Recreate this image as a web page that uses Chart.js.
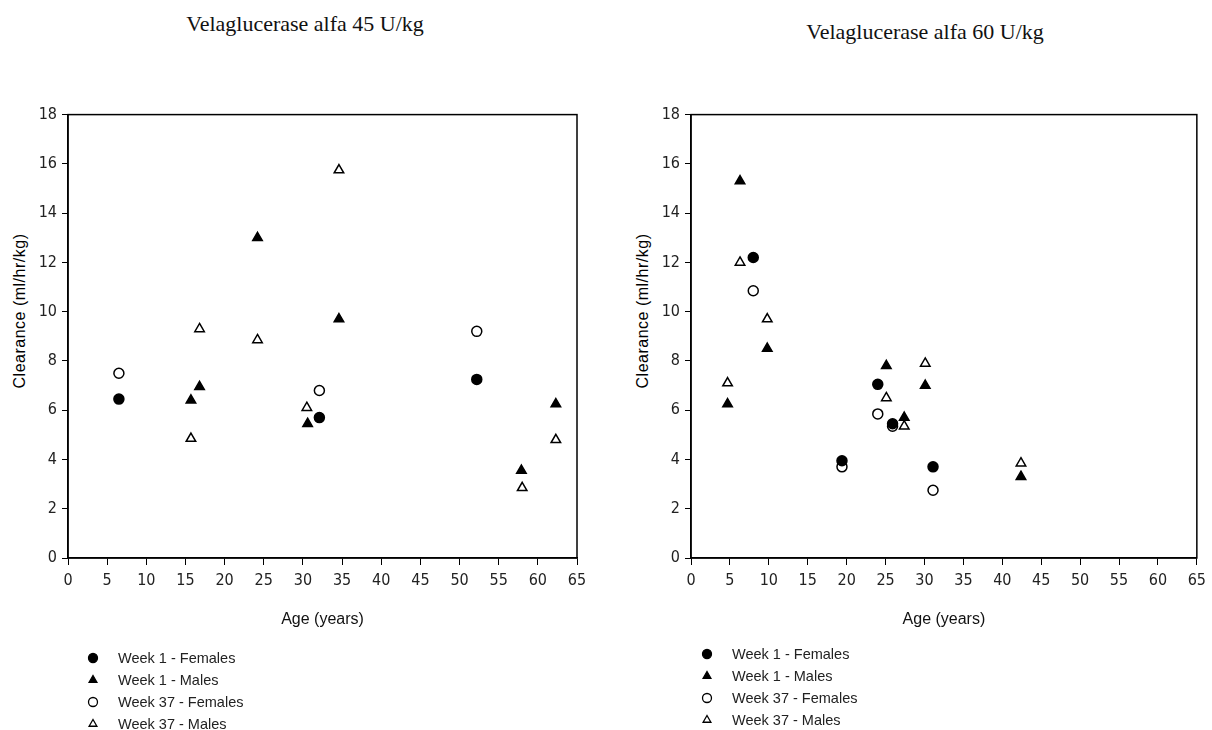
<!DOCTYPE html>
<html>
<head>
<meta charset="utf-8">
<script src="https://cdn.jsdelivr.net/npm/chart.js@4/dist/chart.umd.min.js"></script>
<style>
  body{margin:0;background:#fff;width:1212px;height:730px;overflow:hidden;position:relative;font-family:"Liberation Sans",Arial,sans-serif;}
  .title{position:absolute;font-family:"Liberation Serif","Times New Roman",serif;font-size:22px;line-height:1;color:#111;white-space:nowrap;transform:translateX(-50%);}
  .ytitle{position:absolute;font-size:16px;line-height:1;color:#000;white-space:nowrap;letter-spacing:0.5px;transform:translate(-50%,-50%) rotate(-90deg);}
  .box{position:absolute;}
  .legend{position:absolute;font-size:14.5px;color:#222;}
  .legend .row{height:22px;display:flex;align-items:center;}
  .legend canvas{width:16px;height:16px;margin-right:17px;}
</style>
</head>
<body>
<div class="title" style="left:305px;top:13px;">Velaglucerase alfa 45 U/kg</div>
<div class="title" style="left:925px;top:21px;">Velaglucerase alfa 60 U/kg</div>

<div class="ytitle" style="left:20px;top:311px;">Clearance (ml/hr/kg)</div>
<div class="ytitle" style="left:643px;top:311px;">Clearance (ml/hr/kg)</div>

<div class="box" style="left:0;top:100px;width:600px;height:530px;"><canvas id="c45"></canvas></div>
<div class="box" style="left:623px;top:100px;width:589px;height:530px;"><canvas id="c60"></canvas></div>

<div class="legend" id="leg45" style="left:85px;top:647px;"></div>
<div class="legend" id="leg60" style="left:699px;top:643px;"></div>

<script>
// series labels
const seriesLabels = ['Week 1 - Females', 'Week 1 - Males', 'Week 37 - Females', 'Week 37 - Males'];

// 45 U/kg panel: age (years) and clearance (ml/hr/kg)
const age45W1F = [6.5, 32.1, 52.2];
const clr45W1F = [6.45, 5.7, 7.25];
const age45W1M = [15.7, 16.8, 24.2, 30.6, 34.6, 57.9, 62.3];
const clr45W1M = [6.4, 6.95, 13.0, 5.45, 9.7, 3.55, 6.25];
const age45W37F = [6.5, 32.1, 52.2];
const clr45W37F = [7.5, 6.8, 9.2];
const age45W37M = [15.7, 16.8, 24.2, 30.5, 34.6, 58.0, 62.3];
const clr45W37M = [4.85, 9.3, 8.85, 6.1, 15.75, 2.85, 4.8];

// 60 U/kg panel
const age60W1F = [8.0, 19.4, 24.0, 25.9, 31.1];
const clr60W1F = [12.2, 3.95, 7.05, 5.45, 3.7];
const age60W1M = [4.7, 6.3, 9.8, 25.1, 27.4, 30.1, 42.4];
const clr60W1M = [6.25, 15.3, 8.5, 7.8, 5.7, 7.0, 3.3];
const age60W37F = [8.0, 19.4, 24.0, 25.9, 31.1];
const clr60W37F = [10.85, 3.7, 5.85, 5.35, 2.75];
const age60W37M = [4.7, 6.3, 9.8, 25.1, 27.4, 30.1, 42.4];
const clr60W37M = [7.1, 12.0, 9.7, 6.5, 5.35, 7.9, 3.85];

// axis ticks
const xTicks = [0, 5, 10, 15, 20, 25, 30, 35, 40, 45, 50, 55, 60, 65];
const yTicks = [0, 2, 4, 6, 8, 10, 12, 14, 16, 18];

const styles = [
  {pointStyle:'circle',   bg:'#000', r:5},
  {pointStyle:'triangle', bg:'#000', r:5.5},
  {pointStyle:'circle',   bg:'#fff', r:5},
  {pointStyle:'triangle', bg:'#fff', r:5.5}
];

const zip = (xs, ys) => xs.map((x,i)=>({x, y:ys[i]}));

// box around the plot area
const frame = {
  id:'frame',
  beforeDatasetsDraw(c){
    const a = c.chartArea, ctx = c.ctx;
    ctx.save(); ctx.strokeStyle = '#000'; ctx.lineWidth = 1.5;
    ctx.strokeRect(a.left, a.top, a.right - a.left, a.bottom - a.top);
    ctx.restore();
  }
};

const narrow = '"Liberation Sans Narrow", "DejaVu Sans Condensed", "Liberation Sans", Arial, sans-serif';

function makePanel(id, series, padRight){
  const datasets = series.map((pts,i)=>({
    label: seriesLabels[i], data: pts,
    pointStyle: styles[i].pointStyle, pointRadius: styles[i].r, pointHoverRadius: styles[i].r,
    backgroundColor: styles[i].bg, borderColor:'#000', borderWidth:1.5, showLine:false
  }));
  const tickFont = {family: narrow, size:16};
  return new Chart(document.getElementById(id), {
    type:'scatter',
    data:{datasets},
    options:{
      responsive:true, maintainAspectRatio:false, animation:false,
      layout:{padding:{top:10, right:padRight, left:0, bottom:0}},
      plugins:{legend:{display:false}, tooltip:{enabled:false}},
      scales:{
        x:{
          min:0, max:65,
          afterBuildTicks: s => { s.ticks = xTicks.map(v=>({value:v})); },
          afterFit: s => { s.height = 72; },
          ticks:{color:'#222', font:tickFont, padding:6, maxRotation:0, autoSkip:false},
          grid:{drawOnChartArea:false, color:'#000', tickLength:7},
          border:{color:'#000', width:1.5},
          title:{display:true, text:'Age (years)', color:'#111', font:{family:'"Liberation Sans", Arial, sans-serif', size:16}, padding:{top:1, bottom:1}}
        },
        y:{
          min:0, max:18,
          afterBuildTicks: s => { s.ticks = yTicks.map(v=>({value:v})); },
          afterFit: s => { s.width = 68; },
          ticks:{color:'#222', font:tickFont, padding:5},
          grid:{drawOnChartArea:false, color:'#000', tickLength:6},
          border:{color:'#000', width:1.5},
          title:{display:false}
        }
      }
    },
    plugins:[frame]
  });
}

function buildLegend(chart, elId){
  const el = document.getElementById(elId);
  chart.data.datasets.forEach(ds=>{
    const row = document.createElement('div'); row.className = 'row';
    const cv = document.createElement('canvas'); cv.width = 16; cv.height = 16;
    const ctx = cv.getContext('2d');
    ctx.fillStyle = ds.backgroundColor; ctx.strokeStyle = '#000'; ctx.lineWidth = 1.3;
    Chart.helpers.drawPoint(ctx, {pointStyle: ds.pointStyle, radius: 4.5, rotation: 0, borderWidth: 1.3}, 8, 8);
    const sp = document.createElement('span'); sp.textContent = ds.label;
    row.appendChild(cv); row.appendChild(sp); el.appendChild(row);
  });
}

const chart45 = makePanel('c45', [zip(age45W1F, clr45W1F), zip(age45W1M, clr45W1M), zip(age45W37F, clr45W37F), zip(age45W37M, clr45W37M)], 23);
const chart60 = makePanel('c60', [zip(age60W1F, clr60W1F), zip(age60W1M, clr60W1M), zip(age60W37F, clr60W37F), zip(age60W37M, clr60W37M)], 10);
buildLegend(chart45, 'leg45');
buildLegend(chart60, 'leg60');
</script>
</body>
</html>
